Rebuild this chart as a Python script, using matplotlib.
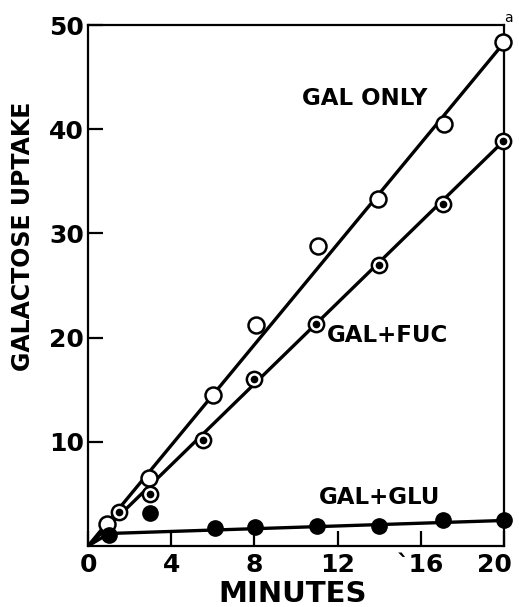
import matplotlib.pyplot as plt
from matplotlib.transforms import ScaledTranslation

# measured points (minutes, galactose uptake)
gal_only_x = [0.9, 2.95, 6.0, 8.1, 11.05, 13.95, 17.1, 19.95]
gal_only_y = [2.1, 6.5, 14.5, 21.2, 28.8, 33.3, 40.5, 48.4]

gal_fuc_x = [1.5, 3.0, 5.55, 8.0, 10.95, 14.0, 17.05, 19.95]
gal_fuc_y = [3.3, 5.0, 10.2, 16.0, 21.3, 27.0, 32.8, 38.9]

gal_glu_x = [1.0, 3.0, 6.1, 8.05, 11.0, 14.0, 17.05, 20.0]
gal_glu_y = [1.1, 3.2, 1.7, 1.85, 1.95, 1.95, 2.45, 2.45]

# hand-drawn fit lines
only_line_x = [0, 20]
only_line_y = [0, 48.3]
fuc_line_x = [0, 20]
fuc_line_y = [0, 38.9]
glu_line_x = [0, 1, 20]
glu_line_y = [0, 1.2, 2.45]

x_ticks = [0, 4, 8, 12, 16, 20]
x_labels = ['0', '4', '8', '12', '`16', '20']
y_ticks = [10, 20, 30, 40, 50]
y_labels = ['10', '20', '30', '40', '50']

plt.rcParams['font.family'] = 'DejaVu Sans'
plt.rcParams['font.weight'] = 'bold'

fig = plt.figure(figsize=(5.19, 6.07), dpi=100)
ax = fig.add_axes([0.1696, 0.1005, 0.8015, 0.8583])

lw = 2.4
ax.plot(only_line_x, only_line_y, color='black', lw=lw, zorder=2)
ax.plot(fuc_line_x, fuc_line_y, color='black', lw=lw, zorder=2)
ax.plot(glu_line_x, glu_line_y, color='black', lw=lw, zorder=2)

ax.plot(gal_only_x, gal_only_y, 'o', ms=11.5, mfc='white', mec='black', mew=1.8,
        zorder=3, clip_on=False)
ax.plot(gal_fuc_x, gal_fuc_y, 'o', ms=11, mfc='white', mec='black', mew=1.8,
        zorder=3, clip_on=False)
ax.plot(gal_fuc_x, gal_fuc_y, 'o', ms=4.5, color='black', zorder=4, clip_on=False)
ax.plot(gal_glu_x, gal_glu_y, 'o', ms=11, color='black', zorder=3, clip_on=False)

ax.set_xlim(0, 20)
ax.set_ylim(0, 50)
ax.set_xticks(x_ticks)
ax.set_xticklabels(x_labels)
ax.set_yticks(y_ticks)
ax.set_yticklabels(y_labels)
ax.tick_params(direction='in', length=11, width=1.6, labelsize=18)
ax.tick_params(axis='x', pad=5)
ax.tick_params(axis='y', pad=3)
for s in ax.spines.values():
    s.set_linewidth(1.6)

# last x label sits a bit left of its tick, as in the original
last = ax.get_xticklabels()[-1]
last.set_transform(last.get_transform() + ScaledTranslation(-10 / 100, 0, fig.dpi_scale_trans))

ax.text(10.3, 42.9, 'GAL ONLY', fontsize=16.5, va='center')
ax.text(11.5, 20.2, 'GAL+FUC', fontsize=16.5, va='center')
ax.text(11.1, 4.7, 'GAL+GLU', fontsize=16.5, va='center')
fig.text(508 / 519, 1 - 18 / 607, 'a', fontsize=10, fontweight='normal',
         ha='center', va='center')

fig.text(23 / 519, 1 - 236 / 607, 'GALACTOSE UPTAKE', rotation=90,
         fontsize=17, ha='center', va='center')
fig.text(293 / 519, 1 - 594 / 607, 'MINUTES', fontsize=21, ha='center', va='center')

fig.savefig('out.png', dpi=100)
